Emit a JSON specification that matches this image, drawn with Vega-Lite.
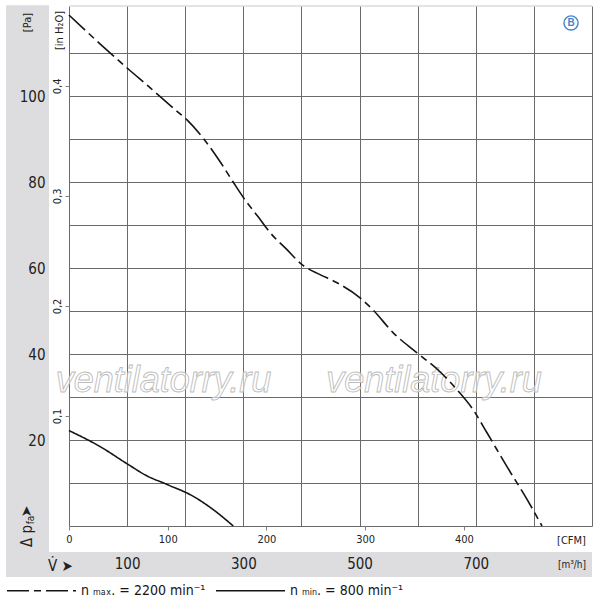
{
  "$schema": "https://vega.github.io/schema/vega-lite/v6.json",
  "width": 523,
  "height": 520,
  "autosize": {"type": "none"},
  "padding": {"left": 69, "top": 6, "right": 8, "bottom": 79},
  "background": "white",
  "config": {
    "view": {"stroke": null},
    "font": "Liberation Sans Narrow, DejaVu Sans Condensed, sans-serif",
    "axis": {
      "labelFont": "Liberation Sans Narrow, DejaVu Sans Condensed, sans-serif",
      "titleFont": "Liberation Sans Narrow, DejaVu Sans Condensed, sans-serif",
      "labelFlush": false,
      "labelOverlap": false,
      "titleFontWeight": "normal",
      "labelColor": "#222",
      "titleColor": "#222"
    },
    "legend": {
      "labelFont": "Liberation Sans Narrow, DejaVu Sans Condensed, sans-serif"
    }
  },
  "layer": [
    {
      "data": {"values": [{}]},
      "mark": {"type": "rect", "fill": "#dddddf"},
      "encoding": {
        "x": {"datum": -108.4, "type": "quantitative", "axis": null},
        "x2": {"datum": -34.4},
        "y": {"datum": 121.2, "type": "quantitative", "axis": null},
        "y2": {"datum": -11.87}
      }
    },
    {
      "data": {"values": [{}]},
      "mark": {"type": "rect", "fill": "#dddddf"},
      "encoding": {
        "x": {"datum": -108.4, "type": "quantitative", "axis": null},
        "x2": {"datum": 900},
        "y": {"datum": -6.05, "type": "quantitative", "axis": null},
        "y2": {"datum": -11.87}
      }
    },
    {
      "data": {"values": [{}]},
      "mark": {"type": "rule", "color": "#c8c8c8", "strokeWidth": 1},
      "encoding": {
        "y": {"datum": 121, "type": "quantitative", "axis": null}
      }
    },
    {
      "data": {"values": [{}]},
      "mark": {"type": "text", "text": "ventilatorry.ru", "font": "Liberation Sans", "fontStyle": "italic", "fontSize": 36, "fill": "#ffffff", "fillOpacity": 0.6, "stroke": "#bdbdbd", "strokeWidth": 0.9, "align": "center", "baseline": "alphabetic"},
      "encoding": {
        "x": {"datum": 162.6, "type": "quantitative", "axis": null},
        "y": {"datum": 31.2, "type": "quantitative", "axis": null}
      }
    },
    {
      "data": {"values": [{}]},
      "mark": {"type": "text", "text": "ventilatorry.ru", "font": "Liberation Sans", "fontStyle": "italic", "fontSize": 36, "fill": "#ffffff", "fillOpacity": 0.6, "stroke": "#bdbdbd", "strokeWidth": 0.9, "align": "center", "baseline": "alphabetic"},
      "encoding": {
        "x": {"datum": 628.1, "type": "quantitative", "axis": null},
        "y": {"datum": 31.2, "type": "quantitative", "axis": null}
      }
    },
    {
      "data": {
        "values": [
          {"curve": "n ₘₐₓ. = 2200 min⁻¹", "flow": 0, "pressure": 118.9},
          {"curve": "n ₘₐₓ. = 2200 min⁻¹", "flow": 53.3, "pressure": 112.2},
          {"curve": "n ₘₐₓ. = 2200 min⁻¹", "flow": 101.5, "pressure": 106.4},
          {"curve": "n ₘₐₓ. = 2200 min⁻¹", "flow": 139.4, "pressure": 102.0},
          {"curve": "n ₘₐₓ. = 2200 min⁻¹", "flow": 182.4, "pressure": 96.9},
          {"curve": "n ₘₐₓ. = 2200 min⁻¹", "flow": 203.1, "pressure": 94.5},
          {"curve": "n ₘₐₓ. = 2200 min⁻¹", "flow": 230.6, "pressure": 90.3},
          {"curve": "n ₘₐₓ. = 2200 min⁻¹", "flow": 259.8, "pressure": 84.8},
          {"curve": "n ₘₐₓ. = 2200 min⁻¹", "flow": 282.2, "pressure": 80.1},
          {"curve": "n ₘₐₓ. = 2200 min⁻¹", "flow": 302.9, "pressure": 75.9},
          {"curve": "n ₘₐₓ. = 2200 min⁻¹", "flow": 325.2, "pressure": 72.0},
          {"curve": "n ₘₐₓ. = 2200 min⁻¹", "flow": 345.9, "pressure": 68.3},
          {"curve": "n ₘₐₓ. = 2200 min⁻¹", "flow": 375.1, "pressure": 64.3},
          {"curve": "n ₘₐₓ. = 2200 min⁻¹", "flow": 401.0, "pressure": 60.8},
          {"curve": "n ₘₐₓ. = 2200 min⁻¹", "flow": 432.0, "pressure": 58.5},
          {"curve": "n ₘₐₓ. = 2200 min⁻¹", "flow": 461.2, "pressure": 56.6},
          {"curve": "n ₘₐₓ. = 2200 min⁻¹", "flow": 500.8, "pressure": 53.1},
          {"curve": "n ₘₐₓ. = 2200 min⁻¹", "flow": 523.1, "pressure": 50.3},
          {"curve": "n ₘₐₓ. = 2200 min⁻¹", "flow": 557.6, "pressure": 45.0},
          {"curve": "n ₘₐₓ. = 2200 min⁻¹", "flow": 598.9, "pressure": 40.3},
          {"curve": "n ₘₐₓ. = 2200 min⁻¹", "flow": 638.4, "pressure": 35.9},
          {"curve": "n ₘₐₓ. = 2200 min⁻¹", "flow": 667.7, "pressure": 31.7},
          {"curve": "n ₘₐₓ. = 2200 min⁻¹", "flow": 695.2, "pressure": 27.1},
          {"curve": "n ₘₐₓ. = 2200 min⁻¹", "flow": 719.3, "pressure": 21.7},
          {"curve": "n ₘₐₓ. = 2200 min⁻¹", "flow": 753.7, "pressure": 13.8},
          {"curve": "n ₘₐₓ. = 2200 min⁻¹", "flow": 788.2, "pressure": 6.2},
          {"curve": "n ₘₐₓ. = 2200 min⁻¹", "flow": 814.0, "pressure": 0},
          {"curve": "n ₘᵢₙ. = 800 min⁻¹", "flow": 0, "pressure": 22.2},
          {"curve": "n ₘᵢₙ. = 800 min⁻¹", "flow": 53.3, "pressure": 18.5},
          {"curve": "n ₘᵢₙ. = 800 min⁻¹", "flow": 102.0, "pressure": 14.3},
          {"curve": "n ₘᵢₙ. = 800 min⁻¹", "flow": 133.7, "pressure": 11.7},
          {"curve": "n ₘᵢₙ. = 800 min⁻¹", "flow": 168.1, "pressure": 9.7},
          {"curve": "n ₘᵢₙ. = 800 min⁻¹", "flow": 213.9, "pressure": 6.9},
          {"curve": "n ₘᵢₙ. = 800 min⁻¹", "flow": 248.3, "pressure": 3.8},
          {"curve": "n ₘᵢₙ. = 800 min⁻¹", "flow": 282.7, "pressure": 0}
        ]
      },
      "mark": {"type": "line", "interpolate": "monotone", "color": "#151515", "strokeWidth": 1.6},
      "encoding": {
        "x": {
          "field": "flow",
          "type": "quantitative",
          "scale": {"domain": [0, 900], "nice": false},
          "axis": {
            "orient": "bottom",
            "values": [0, 100, 200, 300, 400, 500, 600, 700, 800, 900],
            "grid": true, "gridColor": "#6a6a6a", "gridWidth": 1,
            "labels": false, "ticks": false, "tickSize": 0, "domain": false,
            "title": null, "zindex": 0
          }
        },
        "y": {
          "field": "pressure",
          "type": "quantitative",
          "scale": {"domain": [0, 121], "nice": false},
          "axis": {
            "orient": "left",
            "values": [0, 10, 20, 30, 40, 50, 60, 70, 80, 90, 100, 110],
            "grid": true, "gridColor": "#6a6a6a", "gridWidth": 1,
            "labels": false, "ticks": false, "tickSize": 0, "domain": false,
            "title": null, "zindex": 0
          }
        },
        "strokeDash": {
          "field": "curve",
          "type": "nominal",
          "scale": {
            "domain": ["n ₘₐₓ. = 2200 min⁻¹", "n ₘᵢₙ. = 800 min⁻¹"],
            "range": [[22, 5, 7, 5], [1, 0]]
          },
          "legend": {
            "orient": "none",
            "legendX": -63,
            "legendY": 549,
            "direction": "horizontal",
            "title": null,
            "symbolType": "stroke",
            "symbolSize": 4761,
            "symbolStrokeWidth": 1.6,
            "symbolStrokeColor": "#151515",
            "labelFontSize": 14,
            "labelColor": "#151515",
            "labelOffset": 4,
            "labelLimit": 200,
            "columnPadding": 6,
            "padding": 0
          }
        }
      }
    },
    {
      "data": {"values": [{}]},
      "mark": {"type": "point", "shape": "circle", "size": 200, "filled": false, "stroke": "#3f87cf", "strokeWidth": 1.4, "fill": "white", "fillOpacity": 1},
      "encoding": {
        "x": {
          "datum": 863.9,
          "type": "quantitative",
          "axis": {
            "orient": "bottom", "offset": 28,
            "values": [100, 300, 500, 700],
            "domain": false, "ticks": false, "tickSize": 0, "grid": false,
            "labelPadding": 2, "labelFontSize": 15,
            "title": "V̇ ➤", "titleFontSize": 15,
            "titleX": -9, "titleY": 11, "titleAlign": "center", "titleBaseline": "middle",
            "zindex": 1
          }
        },
        "y": {
          "datum": 117.05,
          "type": "quantitative",
          "axis": {
            "orient": "left", "offset": 24,
            "values": [20, 40, 60, 80, 100],
            "domain": false, "ticks": false, "tickSize": 0, "grid": false,
            "labelPadding": 0, "labelFontSize": 15, "labelBaseline": "middle",
            "title": "[Pa]", "titleFontSize": 11, "titleAngle": 270,
            "titleX": -18, "titleY": 16, "titleAlign": "center", "titleBaseline": "middle",
            "zindex": 1
          }
        }
      }
    },
    {
      "data": {"values": [{}]},
      "mark": {"type": "text", "text": "B", "fontWeight": "bold", "fontSize": 10, "color": "#3f87cf", "font": "Liberation Sans"},
      "encoding": {
        "x": {
          "datum": 863.9,
          "type": "quantitative",
          "axis": {
            "orient": "bottom", "offset": 0,
            "values": [0, 169.9, 339.8, 509.7, 679.6],
            "labelExpr": "format(datum.value / 1.699, '.0f')",
            "domain": false, "ticks": true, "tickSize": 4, "tickColor": "#808080", "grid": false,
            "labelPadding": 3, "labelFontSize": 11,
            "title": "[CFM]", "titleFontSize": 11,
            "titleX": 502, "titleY": 14, "titleAlign": "center", "titleBaseline": "middle",
            "zindex": 1
          }
        },
        "y": {
          "datum": 117.05,
          "type": "quantitative",
          "axis": {
            "orient": "left", "offset": 0,
            "values": [25.6, 51.2, 76.8, 102.4],
            "labelExpr": "replace(format(datum.value / 256, '.1f'), '.', ',')",
            "domain": false, "ticks": true, "tickSize": 4, "tickColor": "#808080", "grid": false,
            "labelPadding": 3, "labelFontSize": 11, "labelAngle": 270,
            "labelAlign": "center", "labelBaseline": "bottom",
            "title": "[in H₂O]", "titleFontSize": 11, "titleAngle": 270,
            "titleX": -10, "titleY": 24, "titleAlign": "center", "titleBaseline": "middle",
            "zindex": 1
          }
        }
      }
    },
    {
      "data": {"values": [{}]},
      "mark": {"type": "text", "text": "Δ p", "angle": 270, "fontSize": 15, "color": "#222", "align": "center", "baseline": "middle"},
      "encoding": {
        "x": {"datum": -72.3, "type": "quantitative", "axis": null},
        "y": {"datum": -2.3, "type": "quantitative", "axis": null}
      }
    },
    {
      "data": {"values": [{}]},
      "mark": {"type": "text", "text": "fa", "angle": 270, "fontSize": 10, "color": "#222", "align": "center", "baseline": "middle"},
      "encoding": {
        "x": {"datum": -65.4, "type": "quantitative", "axis": null},
        "y": {"datum": 1.4, "type": "quantitative", "axis": null}
      }
    },
    {
      "data": {"values": [{}]},
      "mark": {"type": "text", "text": "➤", "angle": 270, "fontSize": 14, "color": "#222", "align": "center", "baseline": "middle", "font": "DejaVu Sans"},
      "encoding": {
        "x": {"datum": -72.3, "type": "quantitative", "axis": null},
        "y": {"datum": 3.4, "type": "quantitative", "axis": null}
      }
    },
    {
      "data": {"values": [{}]},
      "mark": {"type": "text", "text": "[m³/h]", "fontSize": 10, "color": "#222", "align": "center", "baseline": "middle"},
      "encoding": {
        "x": {"datum": 865.6, "type": "quantitative", "axis": null},
        "y": {"datum": -9.07, "type": "quantitative", "axis": null}
      }
    }
  ],
  "resolve": {"axis": {"x": "independent", "y": "independent"}}
}
